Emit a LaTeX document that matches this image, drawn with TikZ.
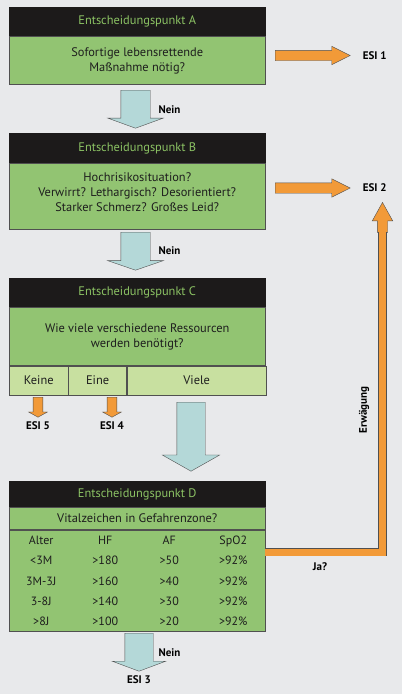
\documentclass[tikz,border=0pt]{standalone}
\usepackage{fontspec}
\setmainfont{PT Sans}
\usepackage{array}
\usetikzlibrary{positioning,shapes.arrows}
\definecolor{bggray}{RGB}{232,233,235}
\definecolor{headblack}{RGB}{28,26,26}
\definecolor{headgreen}{RGB}{140,195,100}
\definecolor{bodygreen}{RGB}{146,196,114}
\definecolor{lightgreen}{RGB}{200,224,160}
\definecolor{edgegray}{RGB}{80,80,80}
\definecolor{paleblue}{RGB}{180,216,216}
\definecolor{esiorange}{RGB}{242,154,56}
\definecolor{textdark}{RGB}{30,30,30}
\newcommand\boxfont{\fontsize{12.4}{15}\selectfont}
\tikzset{
    header/.style={fill=headblack,draw=headblack,minimum width=255.5pt,inner sep=0pt,text=headgreen,font=\boxfont},
    body/.style={fill=bodygreen,draw=edgegray,semithick,minimum width=255.5pt,inner sep=0pt,align=center,text=textdark,font=\boxfont},
    cell/.style={fill=lightgreen,draw=edgegray,semithick,inner sep=0pt,minimum height=29pt,text=textdark,font=\boxfont},
    nein/.style={single arrow,rotate=-90,anchor=tail,fill=paleblue,draw=edgegray,inner xsep=0pt},
    esi/.style={single arrow,fill=esiorange,draw=edgegray,inner xsep=0pt},
    esitext/.style={inner sep=0pt,font=\fontsize{11}{13}\selectfont\bfseries,text=black},
    ja/.style={draw=edgegray,line width=0.8pt,double=esiorange,double distance=7pt}
}

\begin{document}
\begin{tikzpicture}[x=1pt,y=-1pt]

    \fill[bggray] (0,0) rectangle (402,694);
    \useasboundingbox (0,0) rectangle (402,694);

    % Entscheidungspunkt A
    \node[header] (hdr A) [minimum height=28.5pt] at (137.25,21.75) {Entscheidungspunkt A};
    \node[body]   (body A) [minimum height=48pt,below=0pt of hdr A] {Sofortige lebensrettende\\Maßnahme nötig?};

    \node[esi] (arrow A) [anchor=tail,minimum height=75pt,inner ysep=5pt,single arrow head extend=4pt,single arrow tip angle=53] at (275,55.5) {};
    \node[esitext] (esi 1) [right=12pt of arrow A.tip] {ESI 1};

    \node[nein] (down A) [minimum height=38pt,inner ysep=14.5pt,single arrow head extend=13pt,single arrow tip angle=140] at (135.5,90) {};
    \node[esitext] (nein A) at (169.5,110) {Nein};

    % Entscheidungspunkt B
    \node[header] (hdr B) [minimum height=30pt] at (137.25,148) {Entscheidungspunkt B};
    \node[body]   (body B) [minimum height=66pt,below=0pt of hdr B] {Hochrisikosituation?\\Verwirrt? Lethargisch? Desorientiert?\\Starker Schmerz? Großes Leid?\\[-7pt]\mbox{}};

    \node[esi] (arrow B) [anchor=tail,minimum height=75pt,inner ysep=5pt,single arrow head extend=4pt,single arrow tip angle=53] at (275,188) {};
    \node[esitext] (esi 2) [right=12pt of arrow B.tip] {ESI 2};

    \node[nein] (down B) [minimum height=38pt,inner ysep=14.5pt,single arrow head extend=13pt,single arrow tip angle=142] at (135.5,232) {};
    \node[esitext] (nein B) at (169.5,251) {Nein};

    % Entscheidungspunkt C
    \node[header] (hdr C) [minimum height=29pt] at (137.25,292.5) {Entscheidungspunkt C};
    \node[body]   (body C) [minimum height=58pt,below=0pt of hdr C] {Wie viele verschiedene Ressourcen\\werden benötigt?};
    \node[cell]   (keine) [minimum width=58.5pt,anchor=north west] at (body C.south west) {Keine};
    \node[cell]   (eine)  [minimum width=58pt,right=0pt of keine] {Eine};
    \node[cell]   (viele) [minimum width=139pt,right=0pt of eine] {Viele};

    \node[esi] (arrow K) [rotate=-90,anchor=tail,minimum height=20pt,inner ysep=4.7pt,single arrow head extend=4.5pt,single arrow tip angle=122] at (38,397) {};
    \node[esitext] (esi 5) [below=4pt of arrow K.tip] {ESI 5};
    \node[esi] (arrow E) [rotate=-90,anchor=tail,minimum height=20pt,inner ysep=4.7pt,single arrow head extend=4.5pt,single arrow tip angle=122] at (112,397) {};
    \node[esitext] (esi 4) [below=4pt of arrow E.tip] {ESI 4};

    \node[nein] (down C) [minimum height=69pt,inner ysep=14pt,single arrow head extend=14.5pt,single arrow tip angle=121] at (191,402) {};

    % Entscheidungspunkt D
    \node[header] (hdr D) [minimum height=26pt] at (137.25,494) {Entscheidungspunkt D};
    \node[body]   (sub D) [minimum height=22pt,below=0pt of hdr D] {Vitalzeichen in Gefahrenzone?};
    \node[body]   (table D) [minimum height=101pt,below=0pt of sub D] {};
    \node (vitals) [inner sep=0pt,text=textdark] at (137.25,581) {\fontsize{12}{20.2}\selectfont
        \begin{tabular}{@{}*{4}{>{\centering\arraybackslash}p{64pt}@{}}}
        Alter & HF   & AF  & SpO2 \\
        <3M   & >180 & >50 & >92\% \\
        3M-3J & >160 & >40 & >92\% \\
        3-8J  & >140 & >30 & >92\% \\
        >8J   & >100 & >20 & >92\%
        \end{tabular}};

    \node[nein] (down D) [minimum height=38pt,inner ysep=14pt,single arrow head extend=12.5pt,single arrow tip angle=139] at (139,633) {};
    \node[esitext] (nein D) at (169.5,653) {Nein};
    \node[esitext] (esi 3) [below=4pt of down D.tip] {ESI 3};

    % Ja? -> ESI 2
    \node[esi] (up) [rotate=90,anchor=tip,minimum height=30pt,inner ysep=5pt,single arrow head extend=5pt,single arrow tip angle=58] at (382.5,202) {};
    \draw[ja] ([yshift=28.5pt]table D.east) -| ([yshift=1pt]up.tail);
    \node[esitext] (ja) at (320,567) {Ja?};
    \node[esitext,rotate=90] (erwaegung) at (364,410) {Erwägung};

\end{tikzpicture}
\end{document}
